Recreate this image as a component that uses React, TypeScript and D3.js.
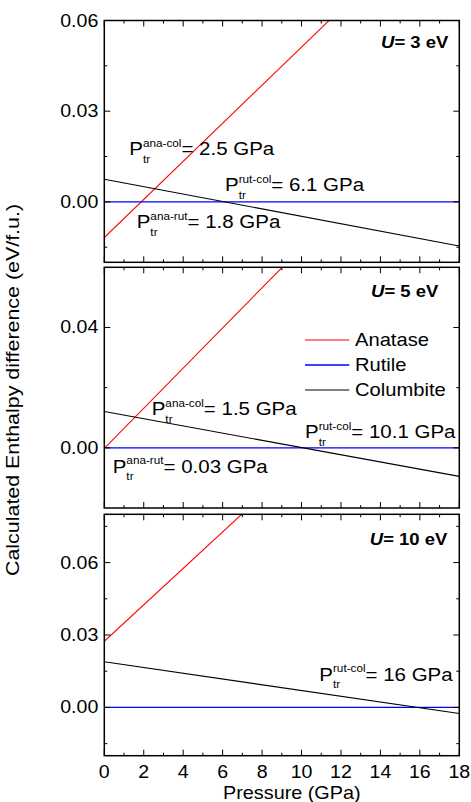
import React, { useEffect, useRef } from "react";
import * as d3 from "d3";

// Pressure range over which each straight enthalpy line is sampled (GPa)
const pressure = [0, 18];

// Hubbard U of each panel (eV)
const uValues = ["3", "5", "10"];

// Enthalpy difference relative to rutile (eV/f.u.) at the pressures above
const anatase = [
  [-0.0118, 0.1016],
  [-0.0002, 0.1199],
  [0.0274, 0.1633],
];
const rutile = [
  [0, 0],
  [0, 0],
  [0, 0],
];
const columbite = [
  [0.0075, -0.0146],
  [0.0121, -0.0095],
  [0.0189, -0.0025],
];

const seriesNames = ["Anatase", "Rutile", "Columbite"];
const seriesColors = ["#ff0000", "#0000ff", "#000000"];

// Axis settings per panel
const yDomains = [
  [-0.02, 0.06],
  [-0.02, 0.06],
  [-0.02, 0.08],
];
const yMajorTicks = [
  [0, 0.03, 0.06],
  [0, 0.04],
  [0, 0.03, 0.06],
];
const yMinorTicks = [
  [-0.015, 0.015, 0.045],
  [0.02],
  [-0.015, 0.015, 0.045, 0.075],
];
const xMajorTicks = [0, 2, 4, 6, 8, 10, 12, 14, 16, 18];
const xMinorTicks = [1, 3, 5, 7, 9, 11, 13, 15, 17];

// Transition pressures written in each panel
const transitions = [
  [
    { phases: "ana-col", value: "2.5" },
    { phases: "rut-col", value: "6.1" },
    { phases: "ana-rut", value: "1.8" },
  ],
  [
    { phases: "ana-col", value: "1.5" },
    { phases: "rut-col", value: "10.1" },
    { phases: "ana-rut", value: "0.03" },
  ],
  [{ phases: "rut-col", value: "16" }],
];

// Layout
const W = 471;
const H = 802;
const PLOT_L = 104.3;
const PLOT_R = 459.3;
const panelTops = [20.5, 267.3, 514.3];
const panelBottoms = [262.3, 508, 755.7];
const FONT = "'Liberation Sans', Arial, Helvetica, sans-serif";
const SX = 1.12; // horizontal widening of the lettering

// Anchor (left x, baseline y) of each transition label
const transitionPos = [
  [
    [129.3, 155],
    [225, 191],
    [136.7, 228.3],
  ],
  [
    [151.7, 415],
    [305, 438.3],
    [112.7, 472.7],
  ],
  [[319.3, 680.7]],
];
const uPos = [
  [448.3, 48.3],
  [438.3, 297.3],
  [447.3, 545],
];

export default function App() {
  const ref = useRef<SVGSVGElement | null>(null);

  useEffect(() => {
    const svg = d3.select(ref.current);
    svg.selectAll("*").remove();

    const x = d3.scaleLinear().domain([0, 18]).range([PLOT_L, PLOT_R]);

    const label = (
      parent: any,
      px: number,
      py: number,
      txt: string,
      size: number,
      anchor = "start"
    ) => {
      const g = parent
        .append("g")
        .attr("transform", `translate(${px},${py}) scale(${SX},1)`);
      const t = g
        .append("text")
        .attr("font-family", FONT)
        .attr("font-size", size)
        .attr("text-anchor", anchor)
        .attr("fill", "#000")
        .text(txt);
      return { g, t };
    };

    for (let i = 0; i < 3; i++) {
      const top = panelTops[i];
      const bottom = panelBottoms[i];
      const y = d3.scaleLinear().domain(yDomains[i]).range([bottom, top]);
      const panel = svg.append("g");

      const clipId = `clip-${i}`;
      svg
        .append("clipPath")
        .attr("id", clipId)
        .append("rect")
        .attr("x", PLOT_L)
        .attr("y", top)
        .attr("width", PLOT_R - PLOT_L)
        .attr("height", bottom - top);

      // Data lines
      const line = d3
        .line<number>()
        .x((_, k) => x(pressure[k]))
        .y((d) => y(d));
      const series = [anatase[i], rutile[i], columbite[i]];
      const widths = [1.1, 1.3, 1.1];
      series.forEach((vals, s) => {
        panel
          .append("path")
          .attr("clip-path", `url(#${clipId})`)
          .attr("d", line(vals))
          .attr("fill", "none")
          .attr("stroke", seriesColors[s])
          .attr("stroke-width", widths[s]);
      });

      // Ticks (inward, on all four sides)
      const tickG = panel
        .append("g")
        .attr("stroke", "#000")
        .attr("stroke-width", 1);
      const xt = (vals: number[], len: number) => {
        vals.forEach((v) => {
          const px = x(v);
          tickG.append("line").attr("x1", px).attr("x2", px).attr("y1", bottom).attr("y2", bottom - len);
          tickG.append("line").attr("x1", px).attr("x2", px).attr("y1", top).attr("y2", top + len);
        });
      };
      const yt = (vals: number[], len: number) => {
        vals.forEach((v) => {
          const py = y(v);
          tickG.append("line").attr("x1", PLOT_L).attr("x2", PLOT_L + len).attr("y1", py).attr("y2", py);
          tickG.append("line").attr("x1", PLOT_R).attr("x2", PLOT_R - len).attr("y1", py).attr("y2", py);
        });
      };
      xt(xMajorTicks, 6);
      xt(xMinorTicks, 3);
      yt(yMajorTicks[i], 6);
      yt(yMinorTicks[i], 3);

      // Frame
      panel
        .append("rect")
        .attr("x", PLOT_L)
        .attr("y", top)
        .attr("width", PLOT_R - PLOT_L)
        .attr("height", bottom - top)
        .attr("fill", "none")
        .attr("stroke", "#000")
        .attr("stroke-width", 1.5);

      // Y tick labels
      const fmt = d3.format(".2f");
      yMajorTicks[i].forEach((v) => {
        label(panel, 98.3, y(v) + 6, fmt(v), 17.5, "end");
      });

      // U label
      const ul = label(panel, uPos[i][0], uPos[i][1], "", 16.5, "end");
      ul.t.attr("font-weight", "bold");
      ul.t.append("tspan").attr("font-style", "italic").text("U");
      ul.t.append("tspan").text(`= ${uValues[i]} eV`);

      // Transition pressure labels
      transitions[i].forEach((tr, k) => {
        const [px, py] = transitionPos[i][k];
        const { g, t } = label(panel, px, py, "P", 18.3);
        const pw = (t.node() as SVGTextElement).getComputedTextLength();
        const sup = g
          .append("text")
          .attr("font-family", FONT)
          .attr("font-size", 10.5)
          .attr("x", pw)
          .attr("y", -8.5)
          .text(tr.phases);
        const sub = g
          .append("text")
          .attr("font-family", FONT)
          .attr("font-size", 10.5)
          .attr("x", pw)
          .attr("y", 7.5)
          .text("tr");
        const sw = Math.max(
          (sup.node() as SVGTextElement).getComputedTextLength(),
          (sub.node() as SVGTextElement).getComputedTextLength()
        );
        g.append("text")
          .attr("font-family", FONT)
          .attr("font-size", 18.3)
          .attr("x", pw + sw)
          .attr("y", 0)
          .text(`= ${tr.value} GPa`);
      });

      // Legend in the middle panel
      if (i === 1) {
        const legY = [340, 365, 390];
        seriesNames.forEach((name, s) => {
          panel
            .append("line")
            .attr("x1", 305)
            .attr("x2", 349.3)
            .attr("y1", legY[s])
            .attr("y2", legY[s])
            .attr("stroke", seriesColors[s])
            .attr("stroke-width", widths[s]);
          label(panel, 355, legY[s] + 6.3, name, 18);
        });
      }

      // X tick labels on the bottom panel
      if (i === 2) {
        xMajorTicks.forEach((v) => {
          label(panel, x(v), 778.3, String(v), 17.5, "middle");
        });
      }
    }

    // Axis titles
    label(svg, (PLOT_L + PLOT_R) / 2 + 10, 799, "Pressure (GPa)", 17.7, "middle");

    svg
      .append("text")
      .attr("transform", `translate(19,390) scale(1.12,1) rotate(-90)`)
      .attr("font-family", "'Liberation Sans Narrow', 'Liberation Sans', Arial, sans-serif")
      .attr("font-stretch", "condensed")
      .attr("font-size", 17)
      .attr("text-anchor", "middle")
      .attr("textLength", 372)
      .attr("lengthAdjust", "spacingAndGlyphs")
      .text("Calculated Enthalpy difference (eV/f.u.)");
  }, []);

  return (
    <svg
      ref={ref}
      width={W}
      height={H}
      style={{ position: "absolute", left: 0, top: 0, background: "#fff" }}
    />
  );
}
